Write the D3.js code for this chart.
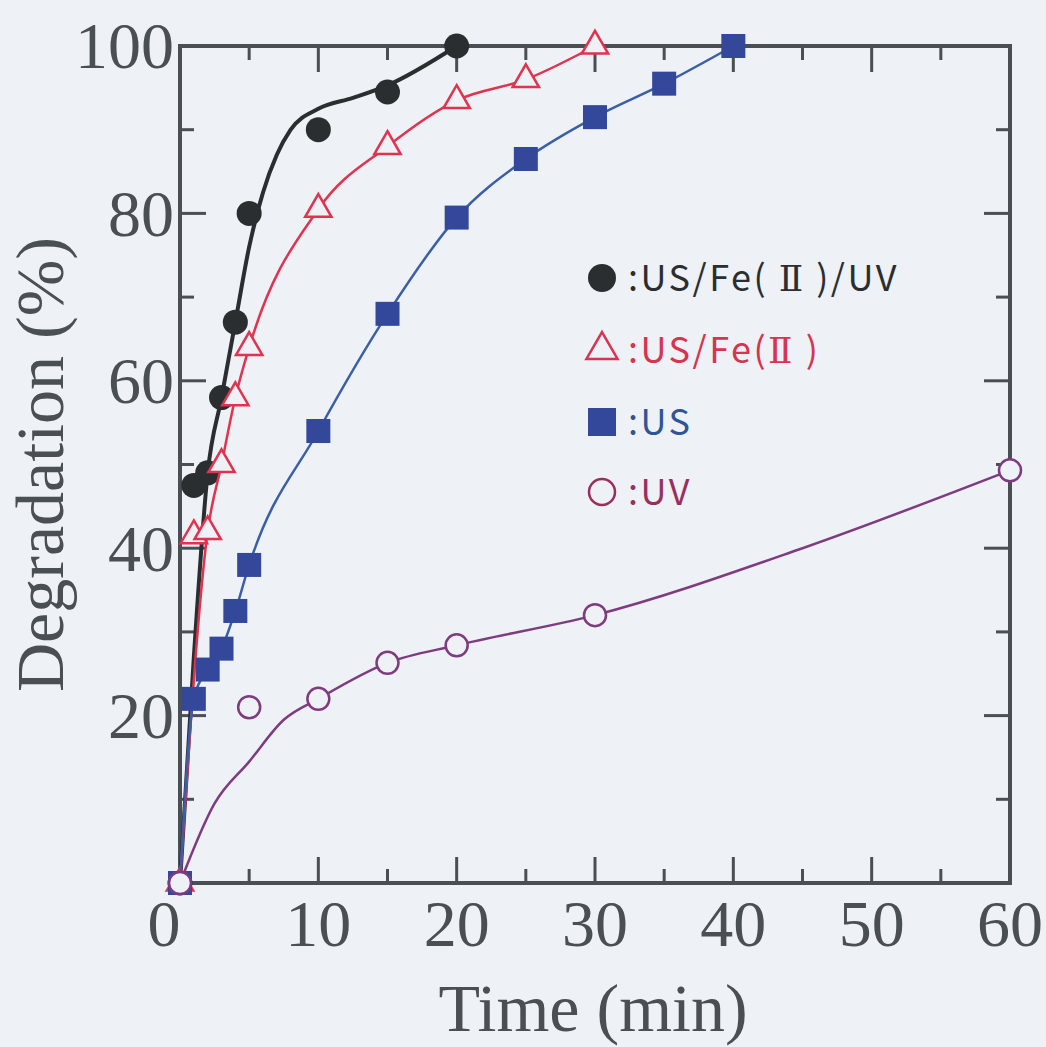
<!DOCTYPE html>
<html>
<head>
<meta charset="utf-8">
<script src="https://cdn.jsdelivr.net/npm/d3@7"></script>
<style>
  body { margin: 0; background: #eef1f5; }
</style>
</head>
<body>
<div class="container"></div>
<script>
// degradation vs time, four treatments

// measured points
const tUSFeUV = [0, 1, 2, 3, 4, 5, 10, 15, 20];
const dUSFeUV = [0, 47.5, 49, 58, 67, 80, 90, 94.5, 100];
const tUSFe = [0, 1, 2, 3, 4, 5, 10, 15, 20, 25, 30];
const dUSFe = [0, 41.5, 42, 50, 58, 64, 80.5, 88, 93.5, 96, 100];
const tUS = [0, 1, 2, 3, 4, 5, 10, 15, 20, 25, 30, 35, 40];
const dUS = [0, 22, 25.5, 28, 32.5, 38, 54, 68, 79.5, 86.5, 91.5, 95.5, 100];
const tUV = [0, 5, 10, 15, 20, 30, 60];
const dUV = [0, 21, 22, 26.3, 28.4, 32, 49.3];

// fitted curves as drawn in the figure
const fitTUSFeUV = [0, 1, 2, 3, 4, 5, 6, 7, 8, 10, 12.5, 15, 20];
const fitDUSFeUV = [0, 27, 49, 58, 67, 76, 82.5, 87, 90, 92.5, 93.8, 95.3, 100];
const fitTUSFe = [0, 2, 3, 4, 5, 10, 15, 20, 25, 30];
const fitDUSFe = [0, 42, 50, 58, 64, 80.5, 88, 93.5, 96, 100];
const fitTUV = [0, 2.5, 5, 7.5, 10, 15, 20, 30, 45, 60];
const fitDUV = [0, 9.5, 14.5, 19.5, 22, 26.3, 28.4, 32, 40, 49.3];

// legend labels split around the roman numeral
const labels = [
  [":US/Fe( ", "\u2161", " )/UV"],
  [":US/Fe(", "\u2161", " )"],
  [":US", "", ""],
  [":UV", "", ""],
];

const xTicks = [0, 10, 20, 30, 40, 50, 60];
const yTicks = [20, 40, 60, 80, 100];

const w = 1046, h = 1047;
const margin = { top: 46, right: 36, bottom: 164, left: 180 };

const axisCol = "#4a4f54";
const bg = "#eef1f5";

const svg = d3.select(".container")
  .append("svg")
  .attr("width", w)
  .attr("height", h)
  .style("display", "block");

svg.append("rect").attr("width", w).attr("height", h).attr("fill", bg);

const xScale = d3.scaleLinear().domain([0, 60]).range([margin.left, w - margin.right]);
const yScale = d3.scaleLinear().domain([0, 100]).range([h - margin.bottom, margin.top]);

const x0 = xScale(0), x1 = xScale(60), y0 = yScale(0), y1 = yScale(100);

// ticks, all four sides, pointing in
const tickLines = svg.append("g").attr("stroke", axisCol).attr("stroke-width", 3);
d3.range(5, 60, 5).forEach((t) => {
  const len = t % 10 === 0 ? 26 : 14;
  tickLines.append("line").attr("x1", xScale(t)).attr("x2", xScale(t)).attr("y1", y0).attr("y2", y0 - len);
  tickLines.append("line").attr("x1", xScale(t)).attr("x2", xScale(t)).attr("y1", y1).attr("y2", y1 + len);
});
d3.range(10, 100, 10).forEach((v) => {
  const len = v % 20 === 0 ? 26 : 14;
  tickLines.append("line").attr("x1", x0).attr("x2", x0 + len).attr("y1", yScale(v)).attr("y2", yScale(v));
  tickLines.append("line").attr("x1", x1).attr("x2", x1 - len).attr("y1", yScale(v)).attr("y2", yScale(v));
});

svg.append("rect")
  .attr("x", x0).attr("y", y1)
  .attr("width", x1 - x0).attr("height", y0 - y1)
  .attr("fill", "none").attr("stroke", axisCol).attr("stroke-width", 4);

// tick labels
svg.selectAll(".xlab")
  .data(xTicks)
  .join("text")
  .attr("class", "xlab")
  .attr("x", (d) => xScale(d))
  .attr("dx", (d) => (d === 0 ? -16 : 0))
  .attr("y", 946)
  .attr("text-anchor", "middle")
  .attr("font-family", "Liberation Serif, serif")
  .attr("font-size", 66)
  .attr("fill", axisCol)
  .text((d) => d);

svg.selectAll(".ylab")
  .data(yTicks)
  .join("text")
  .attr("class", "ylab")
  .attr("x", 174)
  .attr("y", (d) => yScale(d))
  .attr("dy", "0.34em")
  .attr("text-anchor", "end")
  .attr("font-family", "Liberation Serif, serif")
  .attr("font-size", 66)
  .attr("fill", axisCol)
  .text((d) => d);

svg.append("text")
  .attr("x", (x0 + x1) / 2 - 2)
  .attr("y", 1031)
  .attr("text-anchor", "middle")
  .attr("font-family", "Liberation Serif, serif")
  .attr("font-size", 68)
  .attr("fill", axisCol)
  .text("Time (min)");

svg.append("text")
  .attr("transform", `translate(63, ${(y0 + y1) / 2}) rotate(-90)`)
  .attr("text-anchor", "middle")
  .attr("font-family", "Liberation Serif, serif")
  .attr("font-size", 68)
  .attr("fill", axisCol)
  .text("Degradation (%)");

// curves
const line = d3.line()
  .x((d) => xScale(d[0]))
  .y((d) => yScale(d[1]))
  .curve(d3.curveMonotoneX);

const zip = (a, b) => a.map((v, i) => [v, b[i]]);

const cBlack = "#2b2e31", cRed = "#e0334f", cBlue = "#3a5fa8", cBlueFill = "#33489b", cPurple = "#7e3b7f";

svg.append("path").datum(zip(fitTUSFeUV, fitDUSFeUV))
  .attr("d", line).attr("fill", "none").attr("stroke", cBlack).attr("stroke-width", 4);
svg.selectAll(".pBlack").data(zip(tUSFeUV, dUSFeUV)).join("circle")
  .attr("class", "pBlack")
  .attr("cx", (d) => xScale(d[0])).attr("cy", (d) => yScale(d[1]))
  .attr("r", 12.5).attr("fill", cBlack);

svg.append("path").datum(zip(fitTUSFe, fitDUSFe))
  .attr("d", line).attr("fill", "none").attr("stroke", cRed).attr("stroke-width", 2.5);
const tri = d3.symbol().type(d3.symbolTriangle).size(300);
svg.selectAll(".pRed").data(zip(tUSFe, dUSFe)).join("path")
  .attr("class", "pRed")
  .attr("transform", (d) => `translate(${xScale(d[0])},${yScale(d[1])})`)
  .attr("d", tri).attr("fill", bg).attr("stroke", cRed).attr("stroke-width", 2.5);

svg.append("path").datum(zip(tUS, dUS))
  .attr("d", line).attr("fill", "none").attr("stroke", cBlue).attr("stroke-width", 2.5);
svg.selectAll(".pBlue").data(zip(tUS, dUS)).join("rect")
  .attr("class", "pBlue")
  .attr("x", (d) => xScale(d[0]) - 12).attr("y", (d) => yScale(d[1]) - 12)
  .attr("width", 24).attr("height", 24).attr("fill", cBlueFill);

svg.append("path").datum(zip(fitTUV, fitDUV))
  .attr("d", line).attr("fill", "none").attr("stroke", cPurple).attr("stroke-width", 2.5);
svg.selectAll(".pUV").data(zip(tUV, dUV)).join("circle")
  .attr("class", "pUV")
  .attr("cx", (d) => xScale(d[0])).attr("cy", (d) => yScale(d[1]))
  .attr("r", 11).attr("fill", bg).attr("stroke", cPurple).attr("stroke-width", 2.5);

// legend
const legX = 602, legY = [278, 350, 422, 492];
const legCols = [cBlack, "#d8334f", "#2f5597", "#9a2f5e"];
const leg = svg.append("g");
leg.append("circle").attr("cx", legX).attr("cy", legY[0]).attr("r", 14).attr("fill", cBlack);
leg.append("path").attr("transform", `translate(${legX},${legY[1]})`)
  .attr("d", d3.symbol().type(d3.symbolTriangle).size(420))
  .attr("fill", "none").attr("stroke", legCols[1]).attr("stroke-width", 2.5);
leg.append("rect").attr("x", legX - 14).attr("y", legY[2] - 14).attr("width", 28).attr("height", 28).attr("fill", cBlueFill);
leg.append("circle").attr("cx", legX).attr("cy", legY[3]).attr("r", 13)
  .attr("fill", "none").attr("stroke", legCols[3]).attr("stroke-width", 2.5);

const legText = leg.selectAll("text").data(labels).join("text")
  .attr("x", 628)
  .attr("y", (d, i) => legY[i])
  .attr("dy", "0.36em")
  .attr("font-family", "Noto Sans CJK JP, Noto Sans, sans-serif")
  .attr("font-size", 36)
  .attr("letter-spacing", 2.5)
  .attr("fill", (d, i) => legCols[i]);
legText.append("tspan").text((d) => d[0]);
legText.append("tspan").attr("font-family", "DejaVu Serif, serif").text((d) => d[1]);
legText.append("tspan").text((d) => d[2]);
</script>
</body>
</html>
